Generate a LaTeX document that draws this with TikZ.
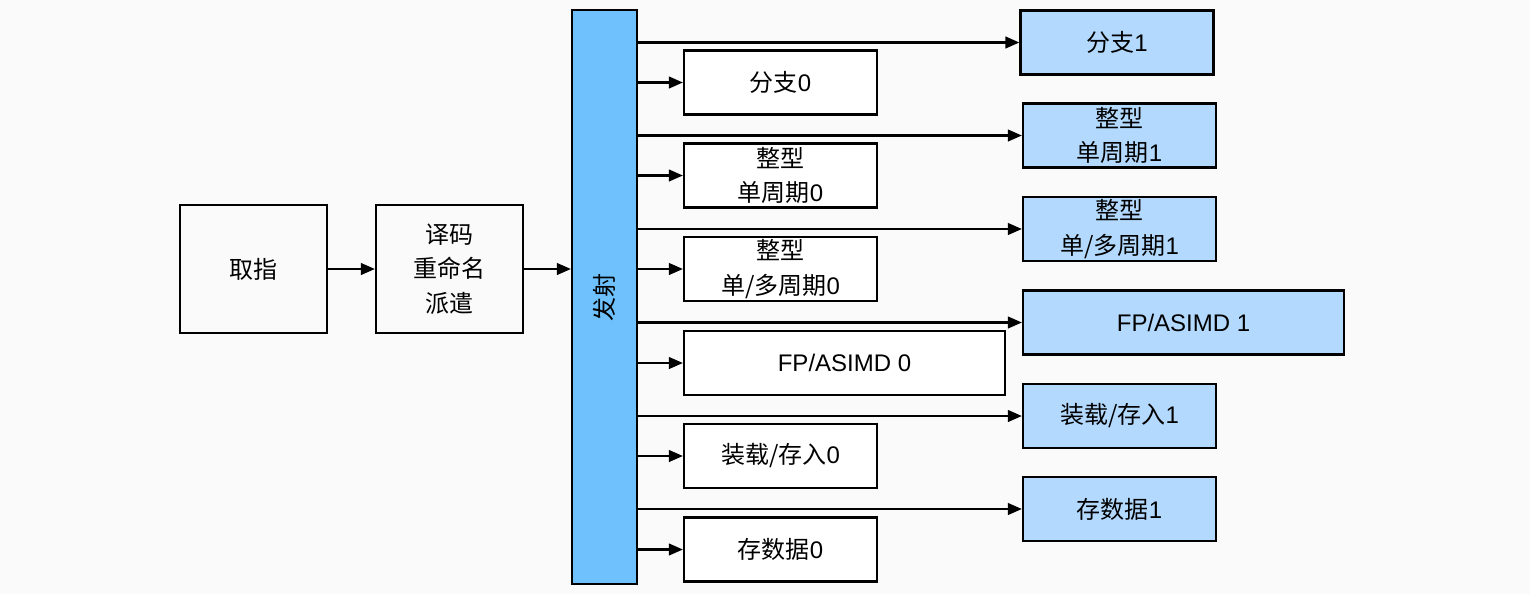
\documentclass[tikz,border=0pt]{standalone}
\usepackage{fontspec}
\setmainfont{Liberation Sans}
\newfontfamily\zh{Noto Sans CJK SC}
\usetikzlibrary{arrows.meta}
\definecolor{issueblue}{HTML}{6EC1FD}
\definecolor{unitblue}{HTML}{B3DAFE}
\definecolor{bggray}{HTML}{FAFAFA}
\begin{document}
\begin{tikzpicture}[x=0.5pt,y=-0.5pt,line width=1.1pt,font=\fontsize{12}{17.3}\selectfont]
\tikzstyle{stage}=[draw, rectangle, align=center, inner sep=0pt, minimum width=73.5pt, minimum height=64pt]
\tikzstyle{unit}=[draw, rectangle, fill=white, align=center, inner sep=0pt, minimum width=96.5pt, minimum height=32pt]
\tikzstyle{wide}=[unit, minimum width=160.5pt]
\tikzstyle{second}=[fill=unitblue]
\tikzstyle{feed}=[-{Triangle[length=7pt,width=5.8pt]}]

\fill[bggray] (0,0) rectangle (1530,594);
\useasboundingbox (0,0) rectangle (1530,594);

\node[stage] (fetch) at (253.5, 269) {{\zh 取指}};
\node[stage] (decode) at (449.5, 269) {{\zh 译码}\\{\zh 重命名}\\{\zh 派遣}};
\node[draw, rectangle, fill=issueblue, inner sep=0pt, minimum width=32.5pt, minimum height=287pt] (issue) at (604.5, 297) {};
\node[rotate=90] at (issue.center) {{\zh 发射}};

% units fed from the issue stage, first row
\node[unit] (br0) at (780.5, 82.5) {{\zh 分支}0};
\node[unit] (ints0) at (780.5, 175.5) {{\zh 整型}\\{\zh 单周期}0};
\node[unit] (intm0) at (780.5, 269) {{\zh 整型}\\{\zh 单/多周期}0};
\node[wide] (fp0) at (844.5, 363) {FP/ASIMD 0};
\node[unit] (ls0) at (780.5, 456) {{\zh 装载/存入}0};
\node[unit] (sd0) at (780.5, 549.5) {{\zh 存数据}0};

% second row
\node[unit, second] (br1) at (1117, 42.5) {{\zh 分支}1};
\node[unit, second] (ints1) at (1119.5, 135.5) {{\zh 整型}\\{\zh 单周期}1};
\node[unit, second] (intm1) at (1119.5, 229) {{\zh 整型}\\{\zh 单/多周期}1};
\node[wide, second] (fp1) at (1183.5, 322.5) {FP/ASIMD 1};
\node[unit, second] (ls1) at (1119.5, 416) {{\zh 装载/存入}1};
\node[unit, second] (sd1) at (1119.5, 509) {{\zh 存数据}1};

\draw[feed] (fetch) -- (decode);
\draw[feed] (decode.east) -- (decode.east -| issue.west);

\draw[feed] (issue.east |- br0) -- (br0);
\draw[feed] (issue.east |- ints0) -- (ints0);
\draw[feed] (issue.east |- intm0) -- (intm0);
\draw[feed] (issue.east |- fp0) -- (fp0);
\draw[feed] (issue.east |- ls0) -- (ls0);
\draw[feed] (issue.east |- sd0) -- (sd0);

\draw[feed] (issue.east |- br1) -- (br1);
\draw[feed] (issue.east |- ints1) -- (ints1);
\draw[feed] (issue.east |- intm1) -- (intm1);
\draw[feed] (issue.east |- fp1) -- (fp1);
\draw[feed] (issue.east |- ls1) -- (ls1);
\draw[feed] (issue.east |- sd1) -- (sd1);
\end{tikzpicture}
\end{document}
